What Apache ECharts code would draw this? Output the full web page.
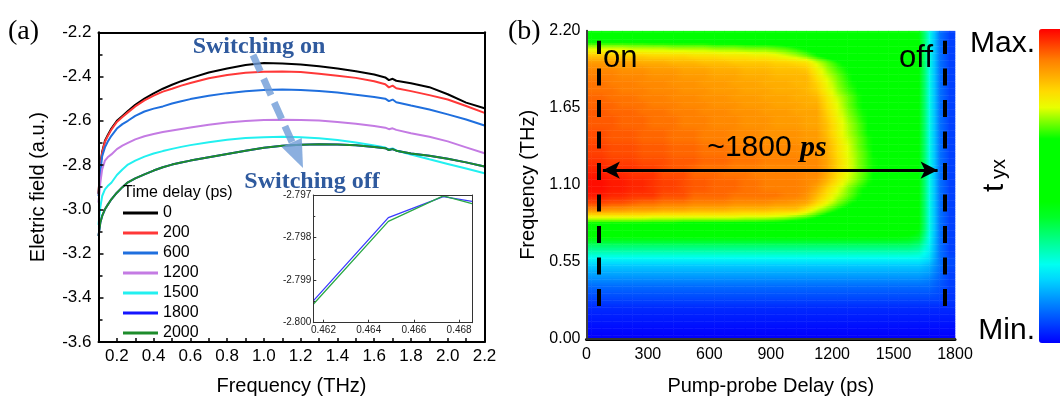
<!DOCTYPE html>
<html>
<head>
<meta charset="utf-8">
<script src="https://cdn.jsdelivr.net/npm/echarts@6/dist/echarts.min.js"></script>
<style>
  html, body { margin: 0; padding: 0; background: #fff; }
  #chart { width: 1060px; height: 401px; }
</style>
</head>
<body>
<div id="chart"></div>
<script>
// ---------- (a) transmitted field spectra ----------
const freqTHz = [0.10, 0.11, 0.12, 0.135, 0.15, 0.17, 0.20, 0.23, 0.26, 0.30, 0.35, 0.40, 0.45, 0.50, 0.55, 0.60,
  0.70, 0.80, 0.90, 1.00, 1.10, 1.20, 1.30, 1.40, 1.50, 1.60, 1.66, 1.68, 1.70, 1.72, 1.80, 1.90, 2.00, 2.10, 2.20];

const delayNames = ['0', '200', '600', '1200', '1500', '1800', '2000'];

const field0 = [-2.93, -2.80, -2.74, -2.69, -2.665, -2.635, -2.600, -2.578, -2.556, -2.528, -2.500, -2.476, -2.455, -2.437, -2.421, -2.407,
  -2.382, -2.364, -2.348, -2.339, -2.341, -2.346, -2.354, -2.364, -2.376, -2.391, -2.404, -2.416, -2.410, -2.419, -2.430, -2.448, -2.480, -2.518, -2.543];
const field200 = [-2.93, -2.80, -2.745, -2.695, -2.67, -2.64, -2.605, -2.583, -2.562, -2.535, -2.508, -2.486, -2.468, -2.455, -2.441, -2.429,
  -2.408, -2.393, -2.383, -2.378, -2.377, -2.380, -2.387, -2.396, -2.406, -2.421, -2.435, -2.449, -2.441, -2.453, -2.466, -2.484, -2.504, -2.533, -2.564];
const field600 = [-2.94, -2.83, -2.76, -2.72, -2.695, -2.668, -2.635, -2.615, -2.600, -2.578, -2.558, -2.545, -2.535, -2.522, -2.512, -2.502,
  -2.487, -2.475, -2.466, -2.461, -2.459, -2.461, -2.465, -2.472, -2.482, -2.492, -2.500, -2.511, -2.504, -2.516, -2.531, -2.549, -2.571, -2.594, -2.621];
const field1200 = [-2.97, -2.88, -2.82, -2.78, -2.765, -2.752, -2.728, -2.712, -2.700, -2.684, -2.670, -2.660, -2.651, -2.644, -2.637, -2.630,
  -2.618, -2.608, -2.601, -2.597, -2.595, -2.596, -2.599, -2.605, -2.613, -2.624, -2.631, -2.638, -2.634, -2.641, -2.656, -2.672, -2.693, -2.720, -2.747];
const field1500 = [-3.07, -2.99, -2.94, -2.91, -2.895, -2.88, -2.845, -2.82, -2.798, -2.78, -2.762, -2.748, -2.737, -2.727, -2.718, -2.710,
  -2.697, -2.686, -2.678, -2.674, -2.672, -2.674, -2.679, -2.687, -2.698, -2.712, -2.721, -2.729, -2.725, -2.734, -2.752, -2.774, -2.795, -2.816, -2.837];
const field1800 = [-3.12, -3.06, -3.03, -3.00, -2.98, -2.955, -2.925, -2.90, -2.878, -2.86, -2.842, -2.825, -2.81, -2.798, -2.789, -2.78,
  -2.765, -2.750, -2.735, -2.722, -2.713, -2.708, -2.706, -2.707, -2.711, -2.718, -2.724, -2.732, -2.728, -2.735, -2.748, -2.758, -2.772, -2.788, -2.807];
const field2000 = [-3.12, -3.06, -3.03, -3.00, -2.98, -2.955, -2.925, -2.90, -2.878, -2.86, -2.842, -2.825, -2.81, -2.798, -2.789, -2.78,
  -2.765, -2.750, -2.735, -2.722, -2.713, -2.708, -2.706, -2.707, -2.711, -2.718, -2.724, -2.732, -2.728, -2.735, -2.748, -2.758, -2.772, -2.788, -2.807];

const fieldSets = [field0, field200, field600, field1200, field1500, field1800, field2000];
const lineColors = ['#000000', '#ff3838', '#1f6fde', '#c47be3', '#22f0f0', '#1515ff', '#1d8c2b'];

// detail window around 0.465 THz
const detailFreq = [0.46156, 0.46487, 0.46730, 0.46857];
const detail1800 = [-2.79948, -2.79753, -2.79704, -2.79715];
const detail2000 = [-2.79956, -2.79762, -2.79702, -2.79720];

// ---------- (b) t_yx map: pump-probe delay (ps) x frequency (THz) ----------
const pumpDelay = [25, 75, 125, 175, 225, 275, 325, 375, 425, 475, 525, 575, 625, 675, 725, 775, 825, 875,
  925, 975, 1025, 1075, 1125, 1175, 1225, 1275, 1325, 1375, 1425, 1475, 1525, 1575, 1625, 1675, 1725, 1775];
const mapFreq = [0.025, 0.075, 0.125, 0.175, 0.225, 0.275, 0.325, 0.375, 0.425, 0.475, 0.525, 0.575, 0.625, 0.675,
  0.725, 0.775, 0.825, 0.875, 0.925, 0.975, 1.025, 1.075, 1.125, 1.175, 1.225, 1.275, 1.325, 1.375, 1.425, 1.475,
  1.525, 1.575, 1.625, 1.675, 1.725, 1.775, 1.825, 1.875, 1.925, 1.975, 2.025, 2.075, 2.125, 2.175];
// one row per frequency (low to high), one value per delay column, 0 = min, 100 = max
const tyx = [
  [0,0,0,0,0,0, 0,0,0,0,0,0, 0,0,0,0,0,0, 0,0,0,0,0,0, 0,0,0,0,0,0, 0,0,0,0,0,0],
  [1,1,1,1,1,1, 1,1,1,1,1,1, 1,1,1,1,1,1, 1,1,1,1,1,1, 1,1,1,1,1,1, 1,1,1,1,1,1],
  [2,2,2,2,2,2, 2,2,2,2,2,2, 2,2,2,2,2,2, 2,2,2,2,2,2, 2,2,2,2,2,2, 2,2,2,2,2,2],
  [3,3,3,3,3,3, 3,3,3,3,3,3, 3,3,3,3,3,3, 3,3,3,3,3,3, 3,3,3,3,3,3, 3,3,3,3,3,3],
  [4,4,4,4,4,4, 4,4,4,4,4,4, 4,4,4,4,4,4, 4,4,4,4,4,4, 4,4,4,4,4,4, 4,4,4,4,4,4],
  [6,6,6,6,6,6, 6,6,6,6,6,6, 6,6,6,6,6,6, 6,6,6,6,6,6, 6,6,6,6,6,6, 6,6,6,6,6,5],
  [8,8,8,8,8,8, 8,8,8,8,8,8, 8,8,8,8,8,8, 8,8,8,8,8,8, 8,8,8,8,8,8, 8,8,8,8,7,5],
  [10,10,10,10,10,10, 10,10,10,10,10,10, 10,10,10,10,10,10, 10,10,10,10,10,10, 10,10,10,10,10,10, 10,10,10,10,8,6],
  [13,13,13,13,13,13, 13,13,13,13,13,13, 13,13,13,13,13,13, 13,13,13,13,13,13, 13,13,13,13,13,13, 13,13,13,12,9,6],
  [16,16,16,16,16,16, 16,16,16,16,16,16, 16,16,16,16,16,16, 16,16,16,16,16,16, 16,16,16,16,16,16, 16,16,16,15,10,6],
  [19,19,19,19,19,19, 19,19,19,19,19,19, 19,19,19,19,19,19, 19,19,19,19,19,19, 19,19,19,19,19,19, 19,19,19,17,11,7],
  [24,24,24,24,24,24, 24,24,24,24,24,24, 24,24,24,24,24,24, 24,24,24,24,24,24, 24,24,24,24,24,24, 24,24,24,21,11,7],
  [30,30,30,30,30,30, 30,30,30,30,30,30, 30,30,30,30,30,30, 30,30,30,30,30,30, 30,30,30,30,30,30, 30,30,29,23,11,6],
  [36,36,36,36,36,36, 36,36,36,36,36,36, 36,36,36,36,36,36, 36,36,36,36,36,36, 36,36,36,36,36,36, 36,36,34,24,11,6],
  [44,44,44,44,44,44, 44,44,44,44,44,44, 44,44,44,44,44,44, 44,44,44,44,44,44, 44,44,44,44,44,44, 44,43,40,25,11,6],
  [52,52,52,52,52,52, 52,52,52,52,52,52, 52,52,52,52,52,52, 52,52,52,52,52,52, 52,52,51,51,51,50, 50,50,44,26,11,6],
  [64,64,64,64,64,64, 64,64,64,63,63,63, 63,63,63,63,63,62, 62,61,60,59,58,57, 56,56,55,55,54,53, 52,51,45,26,11,6],
  [77,77,77,77,77,77, 76,76,76,76,76,76, 76,76,76,75,75,75, 74,73,71,69,66,62, 59,57,56,55,54,53, 53,52,45,26,11,6],
  [89,89,88,88,87,87, 87,86,86,86,85,85, 85,85,84,84,84,84, 83,83,83,79,74,70, 66,63,60,57,56,55, 54,53,45,26,11,6],
  [95,95,94,94,93,92, 92,91,91,91,90,90, 90,90,89,89,89,89, 88,88,87,86,81,76, 71,67,64,61,58,56, 55,54,45,26,11,6],
  [98,98,97,97,96,96, 96,94,94,94,92,92, 92,92,91,91,91,91, 91,90,90,88,84,79, 74,70,66,62,60,57, 56,54,45,26,11,6],
  [99,99,98,98,97,97, 96,95,95,94,93,93, 92,92,92,91,91,90, 90,90,90,89,86,81, 76,71,67,64,61,58, 56,55,45,26,11,6],
  [99,99,98,98,97,97, 96,95,95,94,93,93, 92,92,92,91,91,90, 90,90,90,89,88,84, 79,74,70,66,62,60, 57,56,45,26,11,6],
  [98,98,97,97,96,96, 96,94,94,94,92,92, 92,91,91,91,90,90, 90,90,90,89,89,85, 80,75,71,67,63,60, 58,56,45,26,11,6],
  [97,97,96,96,96,95, 95,94,93,93,92,91, 91,91,90,90,90,89, 89,89,89,89,89,86, 81,76,71,67,64,61, 58,56,45,26,11,6],
  [96,96,95,95,95,94, 94,94,93,93,93,92, 92,92,91,91,91,90, 90,90,90,89,89,86, 81,76,71,67,64,61, 58,56,45,26,11,6],
  [95,95,94,94,94,93, 93,93,92,92,92,91, 91,91,90,90,90,89, 89,89,89,88,88,85, 80,75,71,67,63,60, 58,56,45,26,11,6],
  [95,95,94,94,94,93, 93,93,92,92,92,91, 91,91,90,90,90,89, 89,89,89,88,88,85, 80,75,70,66,63,60, 58,56,45,26,11,6],
  [94,94,93,93,93,92, 92,92,91,91,91,90, 90,90,89,89,89,88, 88,88,88,87,87,84, 79,74,70,66,62,60, 57,56,45,26,11,6],
  [94,94,93,93,93,92, 92,92,91,91,91,90, 90,90,89,89,89,88, 88,88,88,87,87,83, 78,73,69,65,62,59, 57,56,45,26,11,6],
  [93,93,93,92,92,92, 91,91,91,90,90,90, 89,89,89,88,88,88, 87,87,87,86,86,83, 78,73,69,65,62,59, 57,55,45,26,11,6],
  [93,93,93,92,92,92, 91,91,91,90,90,90, 89,89,89,88,88,88, 87,87,87,86,86,82, 77,72,68,64,61,59, 57,55,45,26,11,6],
  [93,93,92,92,92,91, 91,91,90,90,90,89, 89,89,88,88,88,87, 87,87,86,86,86,81, 76,71,67,64,61,58, 56,55,45,26,11,6],
  [92,92,92,91,91,91, 90,90,90,89,89,89, 88,88,88,87,87,87, 86,86,86,85,85,80, 75,70,66,63,60,58, 56,55,45,26,11,6],
  [92,92,91,91,91,90, 90,90,89,89,89,88, 88,88,87,87,87,86, 86,86,85,85,84,79, 74,70,66,62,60,57, 56,54,45,26,11,6],
  [91,91,91,90,90,90, 89,89,89,88,88,88, 87,87,87,86,86,86, 85,85,85,84,82,77, 72,68,65,62,59,57, 55,54,45,26,11,6],
  [91,91,90,90,90,89, 89,89,88,88,88,87, 87,87,86,86,86,85, 85,85,84,84,81,76, 71,67,64,61,58,56, 55,54,45,26,11,6],
  [90,90,90,89,89,89, 88,88,88,87,87,87, 86,86,86,85,85,85, 84,84,84,84,79,74, 70,66,63,60,58,56, 55,54,45,26,11,6],
  [89,89,89,88,88,88, 87,87,87,86,86,86, 85,85,85,84,84,84, 83,83,83,82,77,72, 68,65,62,59,57,55, 54,53,45,26,11,6],
  [87,87,86,86,86,85, 85,85,84,84,84,83, 83,83,82,82,82,82, 81,81,80,79,74,70, 66,63,60,57,56,55, 54,53,45,26,11,6],
  [82,82,82,81,81,81, 80,80,80,80,79,79, 79,78,78,78,77,77, 76,74,72,69,65,62, 59,57,56,55,54,53, 52,52,45,26,11,6],
  [74,74,74,74,73,73, 73,73,72,72,72,72, 71,71,71,70,70,70, 69,68,66,64,62,60, 58,56,55,54,53,53, 52,52,45,26,11,6],
  [64,64,64,64,64,64, 63,63,63,63,63,63, 62,62,62,62,61,61, 61,60,59,58,57,56, 55,55,54,54,53,52, 52,51,45,26,11,6],
  [56,56,56,56,56,56, 56,56,56,56,55,55, 55,55,55,55,55,54, 54,54,54,54,53,53, 53,53,52,52,52,51, 51,50,44,26,11,6]
];

// colour scale of the map, evenly spaced from min (0) to max (100)
const mapColors = ['#0000ff', '#0035ff', '#006aff', '#009fff', '#00d4ff', '#00fff1', '#00ffae', '#00ff6b', '#00ff28',
  '#00ff00', '#00ff00', '#00ff00', '#00ff00', '#00ff00', '#74ff00', '#e8ff00', '#ffdb00', '#ffad00', '#ff8000', '#ff4000', '#ff0000'];

const SANS = '"Liberation Sans", Arial, sans-serif';
const SERIF = '"Liberation Serif", "Times New Roman", serif';

// ---- colour lookup for the map ----
const mapRGB = mapColors.map(h => [parseInt(h.slice(1, 3), 16), parseInt(h.slice(3, 5), 16), parseInt(h.slice(5, 7), 16)]);
function valueColor(v) {
  const t = Math.max(0, Math.min(100, v)) / 100 * (mapRGB.length - 1);
  const k = Math.min(Math.floor(t), mapRGB.length - 2), f = t - k;
  const a = mapRGB[k], b = mapRGB[k + 1];
  return 'rgb(' + [0, 1, 2].map(c => Math.round(a[c] + (b[c] - a[c]) * f)).join(',') + ')';
}

// shaded surface: nodes sit on the cell centres, padded out to the axis limits
const nodeDelay = [0].concat(pumpDelay, [1800]);
const nodeFreq = [0].concat(mapFreq, [2.2]);
function nodeValue(i, j) {
  const c = Math.min(Math.max(i - 1, 0), pumpDelay.length - 1);
  const r = Math.min(Math.max(j - 1, 0), mapFreq.length - 1);
  return tyx[r][c];
}
const patchData = [];
for (let j = 0; j < nodeFreq.length - 1; j++) {
  for (let i = 0; i < nodeDelay.length - 1; i++) patchData.push([i, j, nodeValue(i + 1, j + 1)]);
}
const STRIPS = 4;
function renderPatch(params, api) {
  const i = api.value(0), j = api.value(1);
  const p0 = api.coord([nodeDelay[i], nodeFreq[j]]);
  const p1 = api.coord([nodeDelay[i + 1], nodeFreq[j + 1]]);
  const v00 = nodeValue(i, j), v10 = nodeValue(i + 1, j), v01 = nodeValue(i, j + 1), v11 = nodeValue(i + 1, j + 1);
  const w = p1[0] - p0[0];
  const children = [];
  for (let s = 0; s < STRIPS; s++) {
    const t = (s + 0.5) / STRIPS;
    const vl = v00 + (v01 - v00) * t, vr = v10 + (v11 - v10) * t;
    const yb = p0[1] + (p1[1] - p0[1]) * s / STRIPS;
    const yt = p0[1] + (p1[1] - p0[1]) * (s + 1) / STRIPS;
    children.push({
      type: 'rect',
      shape: { x: p0[0] - 0.25, y: yt - 0.25, width: w + 0.5, height: yb - yt + 0.5 },
      style: { fill: { type: 'linear', x: 0, y: 0, x2: 1, y2: 0, colorStops: [
        { offset: 0, color: valueColor(vl) },
        { offset: 0.5, color: valueColor((vl + vr) / 2) },
        { offset: 1, color: valueColor(vr) }] } }
    });
  }
  return { type: 'group', children };
}

const spectraSeries = delayNames.map((name, i) => ({
  type: 'line', name, xAxisIndex: 0, yAxisIndex: 0,
  data: freqTHz.map((f, k) => [f, fieldSets[i][k]]),
  symbol: 'none', lineStyle: { width: 2, color: lineColors[i] }, itemStyle: { color: lineColors[i] }
}));

const detailSeries = [
  { type: 'line', name: '1800 detail', xAxisIndex: 2, yAxisIndex: 2, symbol: 'none',
    data: detailFreq.map((f, k) => [f, detail1800[k]]), lineStyle: { width: 1.3, color: '#3a3aff' } },
  { type: 'line', name: '2000 detail', xAxisIndex: 2, yAxisIndex: 2, symbol: 'none',
    data: detailFreq.map((f, k) => [f, detail2000[k]]), lineStyle: { width: 1.3, color: '#2aa845' } }
];

const black = '#000';
const option = {
  animation: false,
  textStyle: { fontFamily: SANS },
  grid: [
    { left: 98.5, top: 32.3, width: 386, height: 311.3 },
    { left: 313.3, top: 195, width: 158.7, height: 127.7, show: true, backgroundColor: '#fff', borderWidth: 0 },
    { left: 586.5, top: 30.7, width: 368.5, height: 310.8 }
  ],
  legend: {
    data: delayNames, orient: 'vertical', left: 123, top: 205, padding: 0,
    icon: 'rect', itemWidth: 35, itemHeight: 3, itemGap: 4,
    textStyle: { fontSize: 16, color: black, fontFamily: SANS, lineHeight: 16 }
  },
  xAxis: [
    { gridIndex: 0, type: 'value', min: 0.1, max: 2.2, interval: 0.1, z: 10,
      axisLine: { lineStyle: { color: black, width: 2 } },
      axisTick: { inside: true, length: 4, lineStyle: { color: black, width: 1.5 } },
      axisLabel: { fontSize: 17, color: black, margin: 6,
        formatter: v => (Math.round(v * 10) % 2 === 0 ? v.toFixed(1) : '') },
      splitLine: { show: false },
      name: 'Frequency (THz)', nameLocation: 'middle', nameGap: 34,
      nameTextStyle: { fontSize: 20, color: black } },
    { gridIndex: 0, type: 'value', position: 'top', min: 0.1, max: 2.2, z: 10,
      axisLine: { lineStyle: { color: black, width: 2 } }, axisTick: { show: false },
      axisLabel: { show: false }, splitLine: { show: false } },
    { gridIndex: 1, type: 'value', min: 0.46155, max: 0.46857, z: 10,
      axisLine: { lineStyle: { color: '#333', width: 1 } },
      axisTick: { inside: true, length: 3, customValues: [0.462, 0.464, 0.466, 0.468], lineStyle: { color: '#333' } },
      axisLabel: { fontSize: 10, color: '#222', margin: 3, customValues: [0.462, 0.464, 0.466, 0.468],
        formatter: v => v.toFixed(3) },
      splitLine: { show: false } },
    { gridIndex: 1, type: 'value', position: 'top', min: 0.46155, max: 0.46857, z: 10,
      axisLine: { lineStyle: { color: '#333', width: 1 } }, axisTick: { show: false },
      axisLabel: { show: false }, splitLine: { show: false } },
    { gridIndex: 2, type: 'value', min: 0, max: 1800, interval: 300, z: 10,
      axisLine: { lineStyle: { color: black, width: 3 } }, axisTick: { show: false },
      axisLabel: { fontSize: 16, color: black, margin: 8, formatter: v => String(v) }, splitLine: { show: false },
      name: 'Pump-probe Delay (ps)', nameLocation: 'middle', nameGap: 37,
      nameTextStyle: { fontSize: 20, color: black } },
    { gridIndex: 2, type: 'value', position: 'top', min: 0, max: 1800, z: 10,
      axisLine: { lineStyle: { color: '#444', width: 1.5 } }, axisTick: { show: false },
      axisLabel: { show: false }, splitLine: { show: false } }
  ],
  yAxis: [
    { gridIndex: 0, type: 'value', min: -3.6, max: -2.2, interval: 0.2, z: 10,
      axisLine: { lineStyle: { color: black, width: 2 } },
      axisTick: { inside: true, length: 5, lineStyle: { color: black, width: 1.5 } },
      minorTick: { show: true, splitNumber: 2, length: 4, lineStyle: { color: black, width: 1.5 } },
      axisLabel: { fontSize: 17, color: black, margin: 7, formatter: v => v.toFixed(1) },
      splitLine: { show: false },
      name: 'Eletric field (a.u.)', nameLocation: 'middle', nameGap: 50,
      nameTextStyle: { fontSize: 20, color: black } },
    { gridIndex: 0, type: 'value', position: 'right', min: -3.6, max: -2.2, z: 10,
      axisLine: { lineStyle: { color: black, width: 2 } }, axisTick: { show: false },
      axisLabel: { show: false }, splitLine: { show: false } },
    { gridIndex: 1, type: 'value', min: -2.8, max: -2.797, interval: 0.001, z: 10,
      axisLine: { lineStyle: { color: '#333', width: 1 } },
      axisTick: { inside: true, length: 3, lineStyle: { color: '#333' } },
      minorTick: { show: true, splitNumber: 2, length: 2, lineStyle: { color: '#333' } },
      axisLabel: { fontSize: 10, color: '#222', margin: 2, formatter: v => v.toFixed(3) },
      splitLine: { show: false } },
    { gridIndex: 1, type: 'value', position: 'right', min: -2.8, max: -2.797, z: 10,
      axisLine: { lineStyle: { color: '#333', width: 1 } }, axisTick: { show: false },
      axisLabel: { show: false }, splitLine: { show: false } },
    { gridIndex: 2, type: 'value', min: 0, max: 2.2, interval: 0.55, z: 10,
      axisLine: { lineStyle: { color: '#333', width: 2 } }, axisTick: { show: false },
      axisLabel: { fontSize: 16, color: black, margin: 6, formatter: v => v.toFixed(2) },
      splitLine: { show: false },
      name: 'Frequency (THz)', nameLocation: 'middle', nameGap: 48,
      nameTextStyle: { fontSize: 20, color: black } },
    { gridIndex: 2, type: 'value', position: 'right', min: 0, max: 2.2, z: 10,
      axisLine: { lineStyle: { color: '#444', width: 1.5 } }, axisTick: { show: false },
      axisLabel: { show: false }, splitLine: { show: false } }
  ],
  visualMap: {
    type: 'continuous', seriesIndex: 9, dimension: 2, min: 0, max: 100, calculable: false,
    orient: 'vertical', left: 1039, top: 29, itemWidth: 24, itemHeight: 314, padding: 0,
    text: null, inRange: { color: mapColors }
  },
  series: [
    ...spectraSeries,
    ...detailSeries,
    { type: 'custom', xAxisIndex: 4, yAxisIndex: 4, data: patchData, renderItem: renderPatch,
      silent: true, clip: true, z: 1 },
    { type: 'scatter', xAxisIndex: 4, yAxisIndex: 4, data: [[0, 0]], symbolSize: 0, silent: true, z: 5,
      markLine: { silent: true, symbol: 'none', label: { show: false },
        lineStyle: { color: black, width: 4, type: [17, 14.5] },
        data: [
          [{ coord: [60, 0.235] }, { coord: [60, 2.129] }],
          [{ coord: [1750, 0.235] }, { coord: [1750, 2.129] }]
        ] } },
    { type: 'scatter', xAxisIndex: 4, yAxisIndex: 4, data: [[0, 0]], symbolSize: 0, silent: true, z: 5,
      markLine: { silent: true, symbol: ['arrow', 'arrow'], symbolSize: [13, 17], label: { show: false },
        lineStyle: { color: black, width: 3, type: 'solid' },
        data: [[{ coord: [80, 1.205] }, { coord: [1715, 1.205] }]] } }
  ],
  graphic: [
    { type: 'text', x: 8, y: 32, style: { text: '(a)', font: '28px ' + SERIF, fill: black, align: 'left', verticalAlign: 'middle' } },
    { type: 'text', x: 508, y: 32, style: { text: '(b)', font: '28px ' + SERIF, fill: black, align: 'left', verticalAlign: 'middle' } },
    { type: 'line', shape: { x1: 253, y1: 55, x2: 292, y2: 142 },
      style: { stroke: 'rgba(110,155,215,0.8)', lineWidth: 7, lineDash: [18, 8] }, z: 20 },
    { type: 'polygon', shape: { points: [[303, 168], [301.8, 137.9], [281.6, 146.9]] },
      style: { fill: 'rgba(110,155,215,0.8)' }, z: 20 },
    { type: 'text', x: 259, y: 47, z: 21, style: { text: 'Switching on', font: 'bold 24px ' + SERIF, fill: '#2f5a9e', align: 'center', verticalAlign: 'middle' } },
    { type: 'text', x: 312, y: 182, z: 21, style: { text: 'Switching off', font: 'bold 24px ' + SERIF, fill: '#2f5a9e', align: 'center', verticalAlign: 'middle' } },
    { type: 'text', x: 123, y: 193, z: 21, style: { text: 'Time delay (ps)', font: '16px ' + SANS, fill: black, align: 'left', verticalAlign: 'middle' } },
    { type: 'text', x: 603, y: 58, z: 21, style: { text: 'on', font: '31px ' + SANS, fill: black, align: 'left', verticalAlign: 'middle' } },
    { type: 'text', x: 933, y: 58, z: 21, style: { text: 'off', font: '31px ' + SANS, fill: black, align: 'right', verticalAlign: 'middle' } },
    { type: 'text', x: 767, y: 148, z: 21, style: { text: '{a|~1800 }{b|ps}', align: 'center', verticalAlign: 'middle',
        rich: { a: { font: '30px ' + SANS, fill: black }, b: { font: 'italic bold 30px ' + SERIF, fill: black } } } },
    { type: 'text', x: 1035, y: 44, z: 21, style: { text: 'Max.', font: '30px ' + SANS, fill: black, align: 'right', verticalAlign: 'middle' } },
    { type: 'text', x: 1035, y: 331, z: 21, style: { text: 'Min.', font: '30px ' + SANS, fill: black, align: 'right', verticalAlign: 'middle' } },
    { type: 'text', x: 994.5, y: 192, rotation: Math.PI / 2, z: 21, style: { text: 't', font: '30px ' + SANS, fill: black, align: 'left', verticalAlign: 'middle' } },
    { type: 'text', x: 999.5, y: 179, rotation: Math.PI / 2, z: 21, style: { text: 'yx', font: '20px ' + SANS, fill: black, align: 'left', verticalAlign: 'middle' } }
  ]
};

const chart = echarts.init(document.getElementById('chart'), null, { renderer: 'canvas' });
chart.setOption(option);
</script>
</body>
</html>
